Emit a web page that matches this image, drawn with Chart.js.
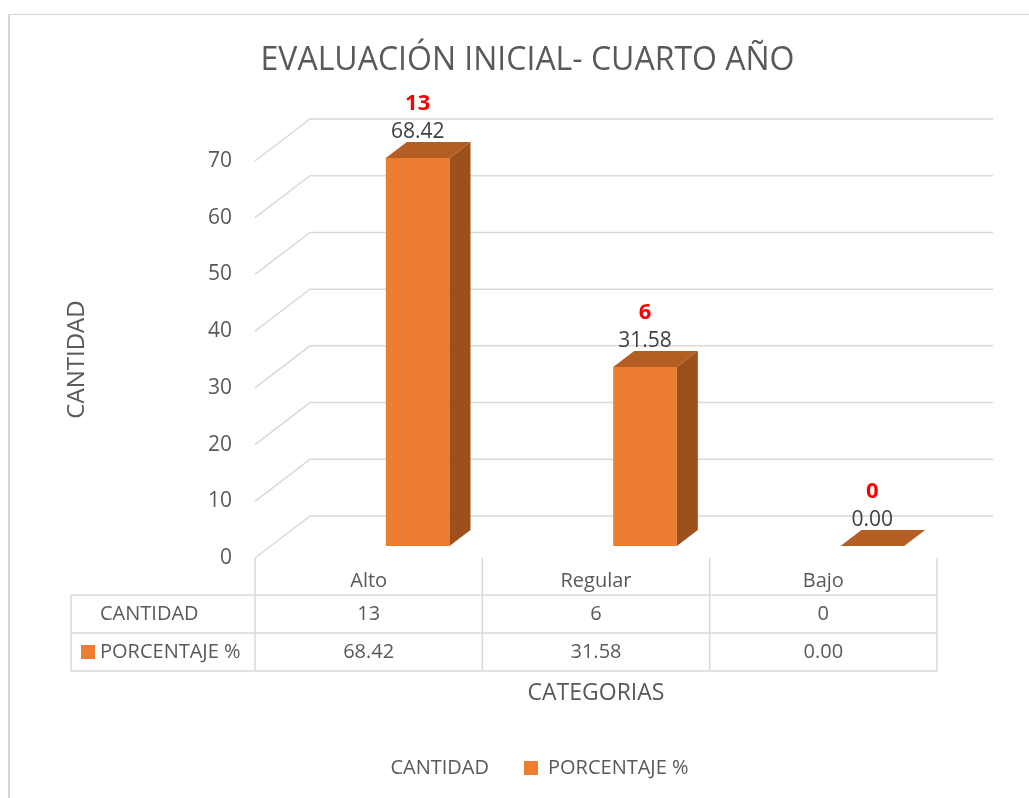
<!DOCTYPE html>
<html>
<head>
<meta charset="utf-8">
<script src="https://cdn.jsdelivr.net/npm/chart.js@4.4.1/dist/chart.umd.min.js"></script>
<style>
  html, body { margin: 0; padding: 0; background: #fff; overflow: hidden; }
  #frame { position: absolute; left: 8px; top: 14px; width: 1100px; height: 900px;
           border-top: 1px solid #d6d6d6; border-left: 2px solid #d6d6d6; }
  #wrap { position: absolute; left: 0; top: 0; width: 1029px; height: 798px; }
</style>
</head>
<body>
<div id="frame"></div>
<div id="wrap"><canvas id="chart" width="1029" height="798"></canvas></div>
<script>
// Data
const categories = ['Alto', 'Regular', 'Bajo'];
const cantidad = [13, 6, 0];
const porcentaje = [68.42, 31.58, 0.00];
const seriesNames = ['CANTIDAD', 'PORCENTAJE %'];

const TEXT = '#595959';
const GRID = '#d9d9d9';
const ORANGE = '#ED7D31';
const ORANGE_TOP = '#B35E22';
const ORANGE_SIDE = '#9C501C';

// 3D look: back wall offset, bar depth position, bar depth size
const WALL = { dx: 55, dy: -42 };
const SHIFT = { dx: 49, dy: -12 };
const DEPTH = { dx: 21, dy: -16 };

// table geometry below the plot
const TABLE_LEFT = 71;
const HEAD_H = 37;
const ROW_H = 38;

Chart.defaults.font.family = "'Open Sans', sans-serif";
Chart.defaults.color = TEXT;

const threeD = {
  id: 'threeD',
  beforeDatasetsDraw(chart) {
    const { ctx, chartArea, scales } = chart;
    const y = scales.y;
    ctx.save();
    ctx.strokeStyle = GRID;
    ctx.lineWidth = 1.5;
    y.ticks.forEach(function (t) {
      const py = y.getPixelForValue(t.value);
      ctx.beginPath();
      ctx.moveTo(chartArea.left, py);
      ctx.lineTo(chartArea.left + WALL.dx, py + WALL.dy);
      ctx.lineTo(chartArea.right + WALL.dx + 1, py + WALL.dy);
      ctx.stroke();
    });
    ctx.restore();
    // bars sit halfway into the depth
    ctx.save();
    ctx.translate(SHIFT.dx, SHIFT.dy);
  },
  afterDatasetsDraw(chart) {
    const ctx = chart.ctx;
    const meta = chart.getDatasetMeta(1);
    meta.data.forEach(function (bar) {
      const p = bar.getProps(['x', 'y', 'base', 'width'], true);
      const l = p.x - p.width / 2, r = p.x + p.width / 2;
      ctx.fillStyle = ORANGE_SIDE;
      ctx.beginPath();
      ctx.moveTo(r, p.y);
      ctx.lineTo(r + DEPTH.dx, p.y + DEPTH.dy);
      ctx.lineTo(r + DEPTH.dx, p.base + DEPTH.dy);
      ctx.lineTo(r, p.base);
      ctx.closePath();
      ctx.fill();
      ctx.fillStyle = ORANGE_TOP;
      ctx.beginPath();
      ctx.moveTo(l, p.y);
      ctx.lineTo(r, p.y);
      ctx.lineTo(r + DEPTH.dx, p.y + DEPTH.dy);
      ctx.lineTo(l + DEPTH.dx, p.y + DEPTH.dy);
      ctx.closePath();
      ctx.fill();
    });
    ctx.restore();

    // data labels: percentage, and the count in red above it
    ctx.save();
    ctx.textAlign = 'center';
    ctx.textBaseline = 'middle';
    meta.data.forEach(function (bar, i) {
      const x = bar.x + SHIFT.dx;
      const top = bar.y + SHIFT.dy;
      ctx.font = "21px 'Open Sans'";
      ctx.fillStyle = '#404040';
      ctx.fillText(porcentaje[i].toFixed(2), x, top - 26);
      ctx.font = "bold 22px 'Open Sans'";
      ctx.fillStyle = '#FF0000';
      ctx.fillText(String(cantidad[i]), x, top - 54);
    });
    ctx.restore();
  },
  afterDraw(chart) {
    const { ctx, chartArea } = chart;
    const n = categories.length;
    const step = (chartArea.right - chartArea.left) / n;
    const top = chartArea.bottom;
    const r1 = top + HEAD_H, r2 = r1 + ROW_H, r3 = r2 + ROW_H;

    ctx.save();
    ctx.strokeStyle = GRID;
    ctx.lineWidth = 1.5;
    ctx.beginPath();
    for (let i = 0; i <= n; i++) {
      const bx = chartArea.left + step * i;
      ctx.moveTo(bx, top);
      ctx.lineTo(bx, r3);
    }
    ctx.moveTo(TABLE_LEFT, r1); ctx.lineTo(TABLE_LEFT, r3);
    [r1, r2, r3].forEach(function (ry) {
      ctx.moveTo(TABLE_LEFT, ry);
      ctx.lineTo(chartArea.right, ry);
    });
    ctx.stroke();

    ctx.font = "20px 'Open Sans'";
    ctx.fillStyle = TEXT;
    ctx.textBaseline = 'middle';
    const rows = [
      { name: seriesNames[0], vals: cantidad.map(String), key: null, y: (r1 + r2) / 2 },
      { name: seriesNames[1], vals: porcentaje.map(function (v) { return v.toFixed(2); }), key: ORANGE, y: (r2 + r3) / 2 },
    ];
    rows.forEach(function (row) {
      if (row.key) {
        ctx.fillStyle = row.key;
        ctx.fillRect(81, row.y - 7, 14, 14);
      }
      ctx.fillStyle = TEXT;
      ctx.textAlign = 'left';
      ctx.fillText(row.name, 100, row.y);
      ctx.textAlign = 'center';
      row.vals.forEach(function (v, i) {
        ctx.fillText(v, chartArea.left + step * (i + 0.5), row.y);
      });
    });
    ctx.restore();
  },
};

new Chart(document.getElementById('chart'), {
  type: 'bar',
  data: {
    labels: categories,
    datasets: [
      { label: seriesNames[0], data: cantidad, backgroundColor: 'rgba(0,0,0,0)', borderWidth: 0, grouped: false, clip: false },
      { label: seriesNames[1], data: porcentaje, backgroundColor: ORANGE, borderWidth: 0, grouped: false, clip: false },
    ],
  },
  plugins: [threeD],
  options: {
    responsive: false,
    animation: false,
    layout: { padding: { left: 118, right: 92, top: 0, bottom: 10 } },
    barPercentage: 0.28,
    categoryPercentage: 1,
    plugins: {
      title: {
        display: true,
        text: 'EVALUACIÓN INICIAL- CUARTO AÑO',
        color: TEXT,
        font: { size: 32, weight: 'normal' },
        padding: { top: 42, bottom: 80.6 },
      },
      legend: {
        position: 'bottom',
        labels: { color: TEXT, font: { size: 20 }, boxWidth: 14, boxHeight: 14, padding: 35 },
      },
      tooltip: { enabled: false },
    },
    scales: {
      x: {
        grid: { display: false, drawTicks: false },
        border: { display: false },
        ticks: { font: { size: 20 }, padding: 11, color: TEXT },
        title: { display: true, text: 'CATEGORIAS', font: { size: 23 }, color: TEXT, padding: { top: 0, bottom: 16 } },
        afterFit: function (s) { s.height = 165; },
      },
      y: {
        min: 0,
        max: 70,
        grid: { display: false, drawTicks: false },
        border: { display: false },
        ticks: { stepSize: 10, font: { size: 21 }, padding: 23, color: TEXT },
        title: { display: true, text: 'CANTIDAD', font: { size: 24 }, color: TEXT, padding: { top: -55, bottom: 0 } },
        afterFit: function (s) { s.width = 137; },
      },
    },
  },
});
</script>
</body>
</html>
